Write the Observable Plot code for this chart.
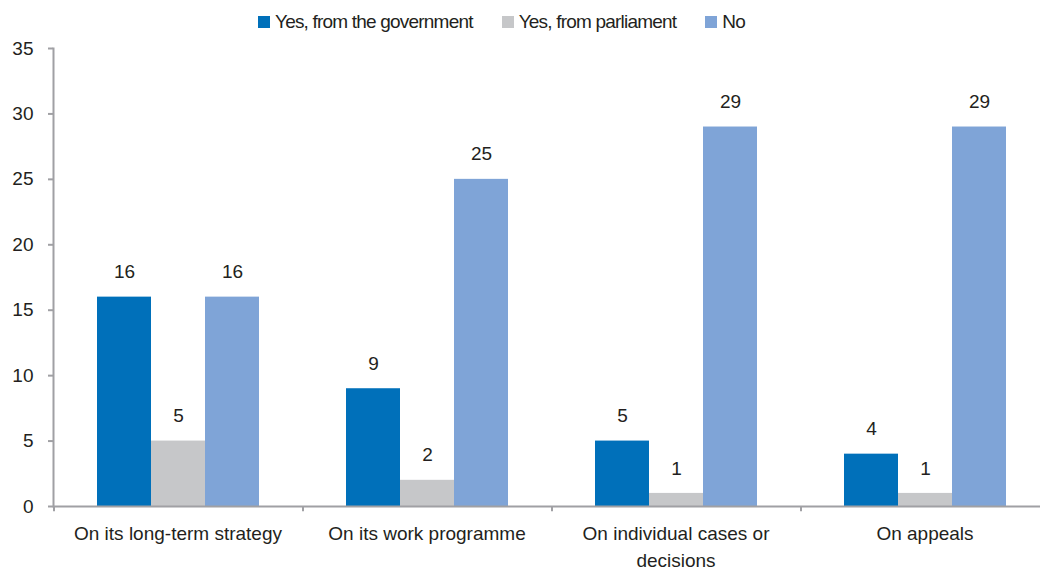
<!DOCTYPE html>
<html>
<head>
<meta charset="utf-8">
<script src="https://cdn.jsdelivr.net/npm/d3@7"></script>
<script src="https://cdn.jsdelivr.net/npm/@observablehq/plot@0.6"></script>
<style>
  html, body { margin: 0; padding: 0; background: #fff; }
  body { width: 1040px; height: 573px; overflow: hidden; font-family: "Liberation Sans", Arial, sans-serif; color: #231f20; }
  #legend { height: 40px; display: flex; align-items: center; padding-left: 258px; box-sizing: border-box; padding-top: 4px; font-size: 19px; letter-spacing: -0.8px; }
  .item { display: flex; align-items: center; margin-right: 29px; }
  .sw { width: 12px; height: 12px; margin-right: 5px; }
</style>
</head>
<body>
<div id="legend"></div>
<div id="chart"></div>
<script>
const categories = ["On its long-term strategy", "On its work programme", "On individual cases or decisions", "On appeals"];
const series = ["Yes, from the government", "Yes, from parliament", "No"];
const government = [16, 9, 5, 4];
const parliament = [5, 2, 1, 1];
const no = [16, 25, 29, 29];
const colors = ["#0070ba", "#c6c7c9", "#7fa4d7"];
const yTicks = [0, 5, 10, 15, 20, 25, 30, 35];

const values = [government, parliament, no];
const data = categories.flatMap((c, i) => series.map((s, j) => ({cat: c, series: s, value: values[j][i]})));

const legend = document.getElementById("legend");
series.forEach((s, j) => {
  const it = document.createElement("div");
  it.className = "item";
  it.innerHTML = `<span class="sw" style="background:${colors[j]}"></span><span>${s}</span>`;
  legend.appendChild(it);
});

const axisColor = "#a0a0a4";
const textColor = "#231f20";
const font = '"Liberation Sans", Arial, sans-serif';

const chart = Plot.plot({
  width: 1040,
  height: 533,
  marginTop: 8,
  marginBottom: 67,
  marginLeft: 53,
  marginRight: -9,
  style: {fontFamily: font, color: textColor, background: "white", overflow: "visible"},
  fx: {domain: categories, padding: 0, label: null},
  x: {domain: series, paddingInner: 0, paddingOuter: 0.805, axis: null},
  y: {domain: [0, 35], label: null},
  color: {domain: series, range: colors},
  marks: [
    Plot.barY(data, {fx: "cat", x: "series", y: "value", fill: "series"}),
    Plot.text(data, {fx: "cat", x: "series", y: "value", text: d => String(d.value), dy: -25, fontSize: 19, fill: textColor}),
    Plot.ruleY([0], {stroke: axisColor, strokeWidth: 2}),
    Plot.frame({anchor: "left", stroke: axisColor, strokeWidth: 2, facetAnchor: "left"}),
    Plot.ruleX(categories, {fx: d => d, x: () => series[0], y1: 0, y2: -0.4, dx: -70.5, stroke: axisColor, strokeWidth: 2}),
    Plot.axisY({ticks: yTicks, tickSize: 5, tickPadding: 15, fontSize: 19, stroke: axisColor, strokeWidth: 2, fill: textColor, label: null}),
    Plot.axisFx({anchor: "bottom", tickSize: 0, tickPadding: 15, fontSize: 19, lineWidth: 13, lineHeight: 1.4, fill: textColor, label: null})
  ]
});
document.getElementById("chart").appendChild(chart);
</script>
</body>
</html>
